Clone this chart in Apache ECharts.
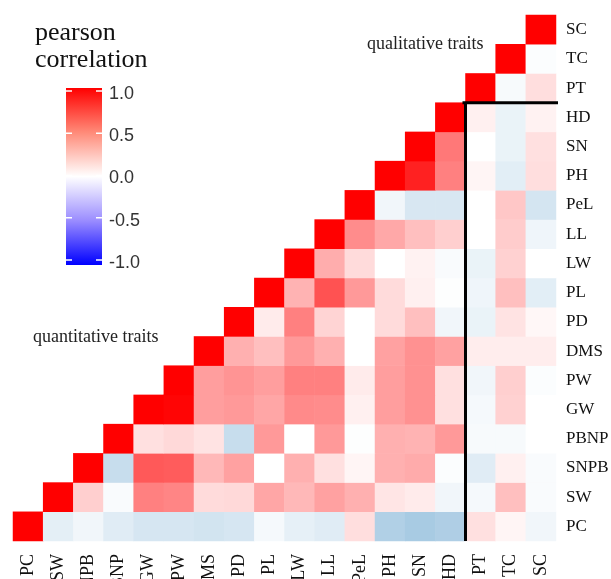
<!DOCTYPE html>
<html>
<head>
<meta charset="utf-8">
<script src="https://cdn.jsdelivr.net/npm/echarts@6/dist/echarts.min.js"></script>
<style>
  html, body { margin: 0; padding: 0; background: #fff; }
  #chart1 { width: 611px; height: 579px; }
</style>
</head>
<body>
<div id="chart1"></div>
<script>
var traits = ['PC', 'SW', 'SNPB', 'PBNP', 'GW', 'PW', 'DMS', 'PD', 'PL', 'LW', 'LL', 'PeL', 'PH', 'SN', 'HD', 'PT', 'TC', 'SC'];

// each row starts at the diagonal (trait with itself) and runs right to SC
var rowPC   = [1, -0.13, -0.07, -0.15, -0.2, -0.2, -0.22, -0.2, -0.05, -0.12, -0.15, 0.13, -0.38, -0.42, -0.39, 0.12, 0.04, -0.07];
var rowSW   = [1, 0.19, -0.03, 0.5, 0.48, 0.14, 0.15, 0.35, 0.28, 0.37, 0.31, 0.1, 0.08, -0.07, -0.05, 0.25, -0.03];
var rowSNPB = [1, -0.27, 0.65, 0.64, 0.28, 0.37, 0.0, 0.31, 0.12, 0.04, 0.31, 0.33, -0.02, -0.15, 0.06, -0.03];
var rowPBNP = [1, 0.12, 0.15, 0.11, -0.27, 0.4, 0.0, 0.4, -0.01, 0.31, 0.3, 0.4, -0.04, -0.04, 0.0];
var rowGW   = [1, 0.98, 0.38, 0.4, 0.35, 0.46, 0.45, 0.06, 0.38, 0.43, 0.12, -0.05, 0.18, 0.0];
var rowPW   = [1, 0.38, 0.42, 0.38, 0.5, 0.5, 0.08, 0.38, 0.43, 0.12, -0.07, 0.19, -0.02];
var rowDMS  = [1, 0.31, 0.25, 0.4, 0.31, 0.0, 0.37, 0.43, 0.37, 0.07, 0.07, 0.07];
var rowPD   = [1, 0.08, 0.5, 0.17, 0.0, 0.14, 0.25, -0.07, -0.1, 0.11, 0.03];
var rowPL   = [1, 0.3, 0.68, 0.4, 0.14, 0.06, -0.01, -0.08, 0.25, -0.14];
var rowLW   = [1, 0.32, 0.14, 0.0, 0.05, -0.03, -0.1, 0.18, 0.0];
var rowLL   = [1, 0.45, 0.34, 0.25, 0.19, 0.0, 0.2, -0.08];
var rowPeL  = [1, -0.07, -0.19, -0.19, 0.0, 0.22, -0.21];
var rowPH   = [1, 0.87, 0.5, 0.04, -0.14, 0.13];
var rowSN   = [1, 0.53, 0.0, -0.1, 0.12];
var rowHD   = [1, 0.06, -0.1, 0.05];
var rowPT   = [1, -0.04, 0.13];
var rowTC   = [1, -0.02];
var rowSC   = [1];

var corrRows = [rowPC, rowSW, rowSNPB, rowPBNP, rowGW, rowPW, rowDMS, rowPD, rowPL,
                rowLW, rowLL, rowPeL, rowPH, rowSN, rowHD, rowPT, rowTC, rowSC];

var legendTicks = [1.0, 0.5, 0.0, -0.5, -1.0];

var data = [];
for (var r = 0; r < corrRows.length; r++) {
  for (var k = 0; k < corrRows[r].length; k++) {
    data.push([r + k, r, corrRows[r][k]]);
  }
}

var chartDom = document.getElementById('chart1');
var myChart = echarts.init(chartDom);
var option;

// colour bar legend, drawn by hand
var barX = 66, barY = 88, barW = 36, barH = 177;
var tickTop = 91, tickBottom = 260;
var legendEls = [
  { type: 'text', id: 't1', left: 35, top: 20, style: { text: 'pearson', font: '26px "Liberation Serif"', fill: '#111' } },
  { type: 'text', id: 't2', left: 35, top: 47, style: { text: 'correlation', font: '26px "Liberation Serif"', fill: '#111' } },
  {
    type: 'rect', id: 'bar',
    shape: { x: barX, y: barY, width: barW, height: barH },
    style: {
      fill: new echarts.graphic.LinearGradient(0, 0, 0, 1, [
        { offset: 0, color: '#ff0000' },
        { offset: 0.25, color: '#ff8a78' },
        { offset: 0.5, color: '#ffffff' },
        { offset: 0.75, color: '#9a8cff' },
        { offset: 1, color: '#0000ff' }
      ])
    }
  }
];
legendTicks.forEach(function (v, i) {
  var y = tickTop + (1 - v) / 2 * (tickBottom - tickTop);
  legendEls.push({ type: 'line', id: 'tl' + i, shape: { x1: barX, y1: y, x2: barX + 6, y2: y }, style: { stroke: '#fff', lineWidth: 1.5 } });
  legendEls.push({ type: 'line', id: 'tr' + i, shape: { x1: barX + barW - 6, y1: y, x2: barX + barW, y2: y }, style: { stroke: '#fff', lineWidth: 1.5 } });
  legendEls.push({
    type: 'text', id: 'tx' + i, x: 109, y: y + 3,
    style: { text: v.toFixed(1), font: '18px "Liberation Sans"', fill: '#333', verticalAlign: 'middle' }
  });
});
legendEls.push({ type: 'text', id: 'q1', left: 33, top: 328, style: { text: 'quantitative traits', font: '18px "Liberation Serif"', fill: '#222' } });
legendEls.push({ type: 'text', id: 'q2', left: 367, top: 35, style: { text: 'qualitative traits', font: '18px "Liberation Serif"', fill: '#222' } });

option = {
  animation: false,
  grid: { left: 13, right: 55, top: 15, bottom: 38, outerBoundsMode: 'none' },
  xAxis: {
    type: 'category',
    data: traits,
    axisLine: { show: false },
    axisTick: { show: false },
    splitLine: { show: false },
    axisLabel: { rotate: 90, margin: 13, fontFamily: 'Liberation Serif', fontSize: 18, color: '#111', interval: 0 }
  },
  yAxis: {
    type: 'category',
    data: traits,
    position: 'right',
    axisLine: { show: false },
    axisTick: { show: false },
    splitLine: { show: false },
    axisLabel: { margin: 10, fontFamily: 'Liberation Serif', fontSize: 17, color: '#111', interval: 0 }
  },
  visualMap: {
    show: false,
    min: -1,
    max: 1,
    dimension: 2,
    seriesIndex: 0,
    inRange: { color: ['#3182bd', '#ffffff', '#ff0000'] }
  },
  graphic: legendEls,
  series: [
    {
      type: 'heatmap',
      data: data,
      itemStyle: { borderWidth: 0 },
      emphasis: { disabled: true }
    }
  ]
};

option && myChart.setOption(option);

// black separators between quantitative and qualitative traits
var pt = myChart.convertToPixel({ gridIndex: 0 }, [15, 15]);
var tc = myChart.convertToPixel({ gridIndex: 0 }, [16, 16]);
var first = myChart.convertToPixel({ gridIndex: 0 }, [0, 0]);
var last = myChart.convertToPixel({ gridIndex: 0 }, [17, 17]);
var cellW = tc[0] - pt[0];
var cellH = pt[1] - tc[1];
var lx = pt[0] - cellW / 2;
var ly = pt[1] + cellH / 2;
myChart.setOption({
  graphic: [
    { type: 'line', id: 'hline', z: 100, shape: { x1: lx - 3, y1: ly, x2: last[0] + cellW / 2 + 2, y2: ly }, style: { stroke: '#000', lineWidth: 3 } },
    { type: 'line', id: 'vline', z: 100, shape: { x1: lx, y1: ly, x2: lx, y2: first[1] + cellH / 2 }, style: { stroke: '#000', lineWidth: 3 } }
  ]
});
</script>
</body>
</html>
